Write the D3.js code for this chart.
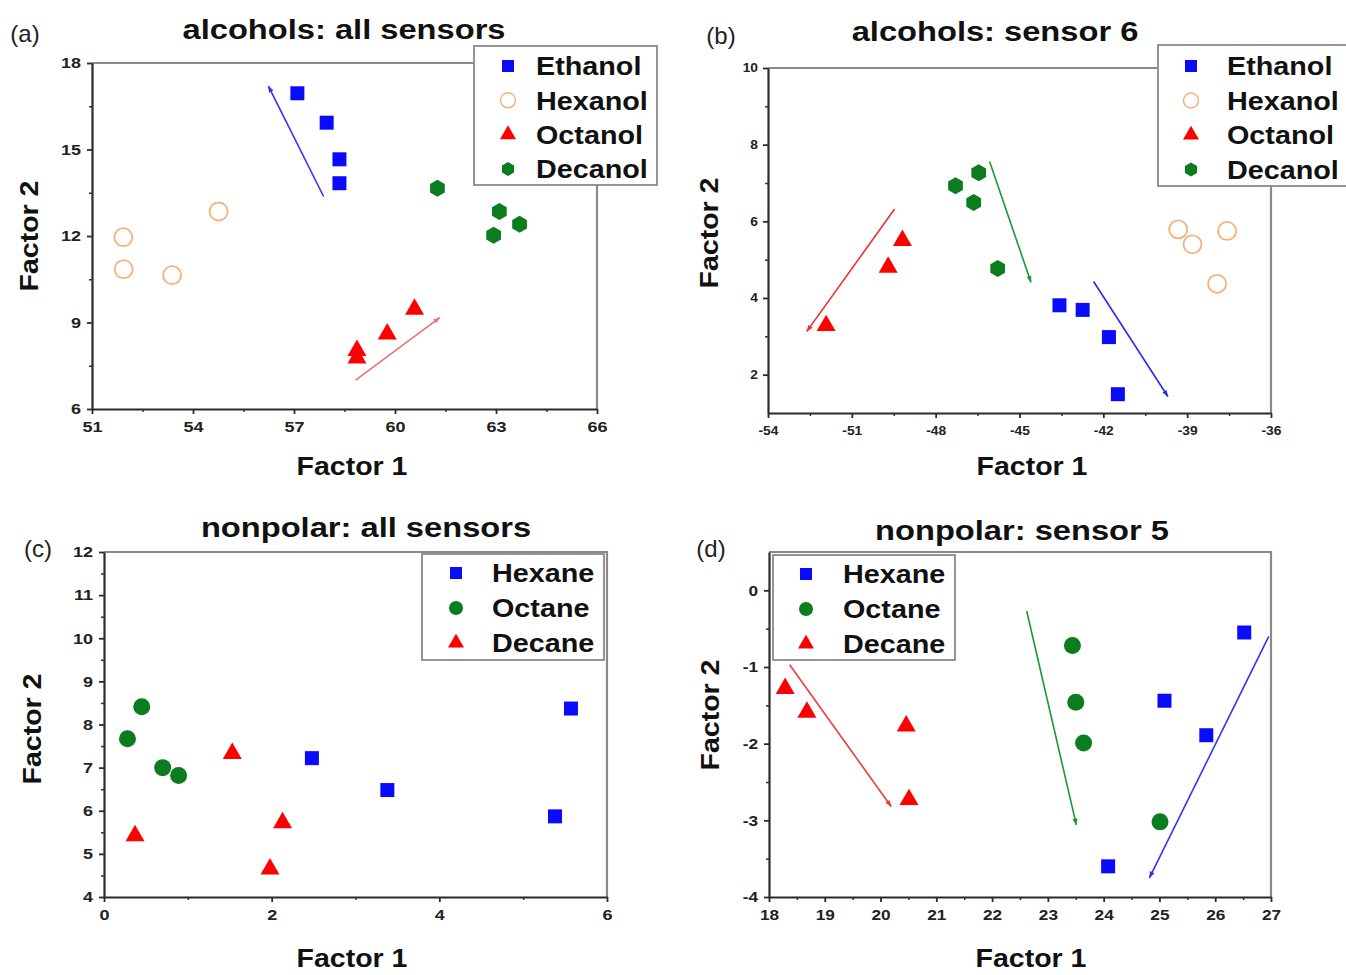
<!DOCTYPE html>
<html><head><meta charset="utf-8">
<script src="https://cdn.jsdelivr.net/npm/d3@7"></script>
<style>body{margin:0;background:#fff}svg{display:block}</style>
</head><body>
<svg id="chart" width="1346" height="975"></svg>
<script>
// ---------------- DATA ----------------
// Panel (a) alcohols: all sensors  [Factor 1, Factor 2]
const aEthanol = [[57.1,16.95],[57.97,15.93],[58.35,14.66],[58.35,13.83]];
const aHexanol = [[51.93,11.96],[51.94,10.85],[53.38,10.64],[54.76,12.85]];
const aOctanol = [[58.87,8.03],[58.87,7.77],[59.77,8.6],[60.58,9.46]];
const aDecanol = [[61.26,13.66],[63.1,12.85],[63.7,12.41],[62.93,12.03]];
const aArrows  = [[57.88,13.37,56.24,17.2],[58.83,7.0,61.33,9.17]];
const aXTicks = [51,54,57,60,63,66];
const aYTicks = [6,9,12,15,18];

// Panel (b) alcohols: sensor 6
const bEthanol = [[-43.57,3.81],[-42.74,3.69],[-41.8,2.98],[-41.48,1.49]];
const bHexanol = [[-39.32,5.79],[-38.81,5.40],[-37.57,5.75],[-37.93,4.37]];
const bOctanol = [[-51.92,3.28],[-49.7,4.8],[-49.19,5.5]];
const bDecanol = [[-47.29,6.93],[-46.46,7.27],[-46.64,6.49],[-45.78,4.77]];
const bArrows  = [[-49.47,6.32,-52.61,3.13],[-46.07,7.56,-44.59,4.41],[-42.35,4.43,-39.69,1.43]];
const bXTicks = [-54,-51,-48,-45,-42,-39,-36];
const bYTicks = [2,4,6,8,10];

// Panel (c) nonpolar: all sensors
const cHexane = [[2.48,7.22],[3.38,6.48],[5.38,5.87],[5.57,8.37]];
const cOctane = [[0.28,7.67],[0.45,8.41],[0.70,7.0],[0.89,6.82]];
const cDecane = [[0.37,5.42],[1.53,7.33],[2.13,5.72],[1.98,4.65]];
const cXTicks = [0,2,4,6];
const cYTicks = [4,5,6,7,8,9,10,11,12];

// Panel (d) nonpolar: sensor 5
const dHexane = [[24.08,-3.6],[25.09,-1.44],[25.84,-1.89],[26.52,-0.55]];
const dOctane = [[23.44,-0.72],[23.5,-1.46],[23.64,-1.99],[25.01,-3.02]];
const dDecane = [[18.29,-1.28],[18.68,-1.59],[20.46,-1.77],[20.51,-2.73]];
const dArrows  = [[18.37,-0.97,20.19,-2.82],[22.62,-0.27,23.51,-3.06],[26.96,-0.6,24.82,-3.75]];
const dXTicks = [18,19,20,21,22,23,24,25,26,27];
const dYTicks = [-4,-3,-2,-1,0];

// ---------------- STYLE ----------------
const FONT = "'Liberation Sans', Arial, sans-serif";
const BLUE = "#0a0aff", RED = "#ff0000", GREEN = "#0b7d1e", ORANGE = "#f4b27a";
const svg = d3.select('#chart');
const defs = svg.append('defs');

function hexPath(r){
  const pts = d3.range(6).map(i => {const a = Math.PI/6 + i*Math.PI/3; return [r*Math.cos(a), r*Math.sin(a)];});
  return 'M' + pts.map(p => p.join(',')).join('L') + 'Z';
}
const markers = {
  square:   {d: s => d3.symbol(d3.symbolSquare, s*s)(), fill: BLUE},
  ocircle:  {d: s => d3.symbol(d3.symbolCircle, Math.PI*(s/2)*(s/2))(), fill: '#fff', stroke: ORANGE},
  triangle: {d: s => d3.symbol(d3.symbolTriangle, Math.sqrt(3)/4*s*s)(), fill: RED},
  hex:      {d: s => hexPath(s/2), fill: GREEN},
  gcircle:  {d: s => d3.symbol(d3.symbolCircle, Math.PI*(s/2)*(s/2))(), fill: GREEN}
};
const mainSize = {square:14, ocircle:18, triangle:19, hex:17, gcircle:17};
const legSize  = {square:12, ocircle:15, triangle:16, hex:14, gcircle:14};

function addText(x, y, str, opt){
  return svg.append('text')
    .attr('transform', `translate(${x},${y}) rotate(${opt.rot||0}) scale(${opt.sx||1},1)`)
    .attr('font-family', FONT).attr('font-size', opt.size)
    .attr('font-weight', opt.weight||'bold')
    .attr('text-anchor', opt.anchor||'middle')
    .attr('dominant-baseline', 'central')
    .attr('fill', opt.fill||'#111')
    .text(str);
}

const arrowColors = {};
function arrowMarker(color){
  if (arrowColors[color]) return arrowColors[color];
  const id = 'arr' + Object.keys(arrowColors).length;
  defs.append('marker').attr('id', id).attr('viewBox','0 0 10 10')
    .attr('refX', 9).attr('refY', 5).attr('markerWidth', 9).attr('markerHeight', 7)
    .attr('markerUnits','userSpaceOnUse').attr('orient','auto')
    .append('path').attr('d','M0,1.5L10,5L0,8.5Z').attr('fill', color);
  arrowColors[color] = id;
  return id;
}

function drawPanel(p){
  const x = d3.scaleLinear().domain(p.xDomain).range([p.left, p.right]);
  const y = d3.scaleLinear().domain(p.yDomain).range([p.bottom, p.top]);
  const g = svg.append('g');

  // top and right frame (gray)
  g.append('path').attr('d', `M${p.left},${p.top}H${p.right}V${p.bottom}`)
    .attr('fill','none').attr('stroke','#8a8a8a').attr('stroke-width',2.2);

  // minor ticks
  const xMinor = d3.axisBottom(x).tickValues(p.xMinor).tickSize(3).tickFormat('');
  const yMinor = d3.axisLeft(y).tickValues(p.yMinor).tickSize(3).tickFormat('');
  g.append('g').attr('transform',`translate(0,${p.bottom})`).call(xMinor)
    .call(s => s.select('.domain').remove()).selectAll('line').attr('stroke','#333').attr('stroke-width',1.5);
  g.append('g').attr('transform',`translate(${p.left},0)`).call(yMinor)
    .call(s => s.select('.domain').remove()).selectAll('line').attr('stroke','#333').attr('stroke-width',1.5);

  const fmt = d => String(d);
  const xAx = d3.axisBottom(x).tickValues(p.xTicks).tickSize(5).tickSizeOuter(0).tickPadding(p.xPad).tickFormat(fmt);
  const yAx = d3.axisLeft(y).tickValues(p.yTicks).tickSize(5).tickSizeOuter(0).tickPadding(p.yPad).tickFormat(fmt);
  const gx = g.append('g').attr('transform',`translate(0,${p.bottom})`).call(xAx);
  const gy = g.append('g').attr('transform',`translate(${p.left},0)`).call(yAx);
  [gx, gy].forEach(a => {
    a.select('.domain').attr('stroke','#2a2a2a').attr('stroke-width',2.2);
    a.selectAll('.tick line').attr('stroke','#2a2a2a').attr('stroke-width',1.8);
    a.selectAll('text').attr('font-family', FONT).attr('font-weight','bold')
      .attr('font-size', p.tickSize).attr('fill','#222')
      .each(function(){
        const t = d3.select(this);
        const tx = +t.attr('x') || 0;
        t.attr('x', 0).attr('transform', `translate(${tx},0) scale(${p.tickSx},1)`);
      });
  });

  // arrows
  (p.arrows||[]).forEach((a, i) => {
    const c = p.arrowColors[i];
    g.append('line').attr('x1', x(a[0])).attr('y1', y(a[1])).attr('x2', x(a[2])).attr('y2', y(a[3]))
      .attr('stroke', c).attr('stroke-width', 1.6).attr('marker-end', `url(#${arrowMarker(c)})`);
  });

  // series
  p.series.forEach(s => {
    const m = markers[s.shape];
    g.selectAll(null).data(s.data).join('path')
      .attr('transform', d => `translate(${x(d[0])},${y(d[1])})`)
      .attr('d', m.d(mainSize[s.shape]))
      .attr('fill', m.fill).attr('stroke', m.stroke||'none').attr('stroke-width', m.stroke?1.8:0);
  });

  // legend
  const L = p.legend;
  svg.append('rect').attr('x', L.x).attr('y', L.y).attr('width', L.w).attr('height', L.h)
    .attr('fill','#fff').attr('stroke','#8a8a8a').attr('stroke-width',1.8);
  p.series.forEach((s, i) => {
    const m = markers[s.shape];
    const cy = L.y + L.first + i*L.step;
    svg.append('path').attr('transform', `translate(${L.x+L.mx},${cy})`)
      .attr('d', m.d(legSize[s.shape])).attr('fill', m.fill)
      .attr('stroke', m.stroke||'none').attr('stroke-width', m.stroke?1.5:0);
    addText(L.x+L.tx, cy+1, s.name, {size:25, sx:1.15, anchor:'start'});
  });

  // titles and labels
  addText(p.titleX, p.titleY, p.title, {size:27, sx:1.21});
  addText(p.tagX, p.tagY, p.tag, {size:24, weight:'normal', sx:1.0, fill:'#222'});
  addText(p.xlX, p.xlY, 'Factor 1', {size:25, sx:1.14});
  addText(p.ylX, p.ylY, 'Factor 2', {size:25, sx:1.14, rot:-90});
}

function range(a, b, step){ return d3.range(a, b + step/2, step); }

drawPanel({
  xDomain:[51,66], yDomain:[6,18], left:92, right:597, top:63, bottom:409,
  xTicks:aXTicks, yTicks:aYTicks, xMinor:range(52.5,64.5,3), yMinor:range(7.5,16.5,3),
  tickSize:15, tickSx:1.2, xPad:7, yPad:6,
  series:[{name:'Ethanol',shape:'square',data:aEthanol},{name:'Hexanol',shape:'ocircle',data:aHexanol},
          {name:'Octanol',shape:'triangle',data:aOctanol},{name:'Decanol',shape:'hex',data:aDecanol}],
  arrows:aArrows, arrowColors:['#3434f0','#f07070'],
  legend:{x:474,y:46,w:183,h:139,first:20,step:34.3,mx:34,tx:62},
  title:'alcohols: all sensors', titleX:344, titleY:30, tag:'(a)', tagX:25, tagY:33,
  xlX:352, xlY:467, ylX:30, ylY:236
});

drawPanel({
  xDomain:[-54,-36], yDomain:[1,10], left:768, right:1271, top:68, bottom:413,
  xTicks:bXTicks, yTicks:bYTicks, xMinor:range(-52.5,-37.5,3), yMinor:range(3,9,2),
  tickSize:12, tickSx:1.15, xPad:8, yPad:5,
  series:[{name:'Ethanol',shape:'square',data:bEthanol},{name:'Hexanol',shape:'ocircle',data:bHexanol},
          {name:'Octanol',shape:'triangle',data:bOctanol},{name:'Decanol',shape:'hex',data:bDecanol}],
  arrows:bArrows, arrowColors:['#f03030','#1a9a35','#2a2af0'],
  legend:{x:1158,y:45,w:200,h:141,first:21,step:34.5,mx:33,tx:69},
  title:'alcohols: sensor 6', titleX:995, titleY:32, tag:'(b)', tagX:721, tagY:35,
  xlX:1032, xlY:467, ylX:710, ylY:233
});

drawPanel({
  xDomain:[0,6], yDomain:[4,12], left:104, right:607, top:552, bottom:897,
  xTicks:cXTicks, yTicks:cYTicks, xMinor:[1,3,5], yMinor:range(4.5,11.5,1),
  tickSize:15, tickSx:1.2, xPad:7, yPad:6,
  series:[{name:'Hexane',shape:'square',data:cHexane},{name:'Octane',shape:'gcircle',data:cOctane},
          {name:'Decane',shape:'triangle',data:cDecane}],
  arrows:[], arrowColors:[],
  legend:{x:422,y:554,w:182,h:106,first:19,step:35,mx:34,tx:70},
  title:'nonpolar: all sensors', titleX:366, titleY:528, tag:'(c)', tagX:38, tagY:548,
  xlX:352, xlY:959, ylX:33, ylY:729
});

drawPanel({
  xDomain:[18,27], yDomain:[-4,0.5], left:769, right:1271, top:552, bottom:897,
  xTicks:dXTicks, yTicks:dYTicks, xMinor:range(18.5,26.5,1), yMinor:range(-3.5,-0.5,1),
  tickSize:15, tickSx:1.15, xPad:7, yPad:6,
  series:[{name:'Hexane',shape:'square',data:dHexane},{name:'Octane',shape:'gcircle',data:dOctane},
          {name:'Decane',shape:'triangle',data:dDecane}],
  arrows:dArrows, arrowColors:['#f03a3a','#1a9a35','#3434f0'],
  legend:{x:773,y:555,w:182,h:105,first:19,step:35,mx:33,tx:70},
  title:'nonpolar: sensor 5', titleX:1022, titleY:531, tag:'(d)', tagX:711, tagY:548,
  xlX:1031, xlY:959, ylX:711, ylY:715
});
</script>
</body></html>
